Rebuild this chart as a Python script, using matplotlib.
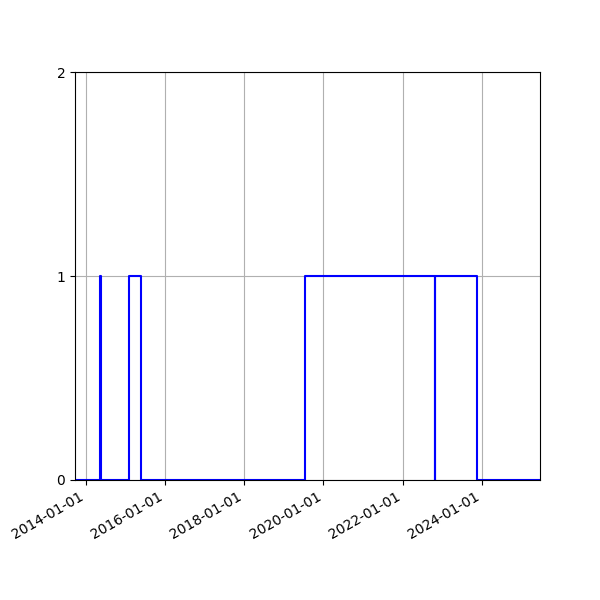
import matplotlib
matplotlib.use("Agg")
import matplotlib.pyplot as plt
import matplotlib.dates as mdates
import numpy as np
import pandas as pd

# change points of the status series (step, value holds until next date)
dates = [
    "2013-09-22", "2014-05-12", "2014-05-16", "2015-02-05", "2015-05-20",
    "2019-07-15", "2022-10-24", "2022-10-28", "2023-11-22", "2025-06-22",
]
values = [0, 1, 0, 1, 0, 1, 0, 1, 0, 0]
y_ticks = [0, 1, 2]

x = pd.to_datetime(dates)

fig, ax = plt.subplots(figsize=(6, 6), dpi=100)
ax.step(x, values, where="post", color="blue", linewidth=1.5)

ax.set_xlim(x[0], x[-1])
ax.set_ylim(0, 2)
ax.set_yticks(y_ticks)
ax.xaxis.set_major_locator(mdates.YearLocator(2))
ax.xaxis.set_major_formatter(mdates.DateFormatter("%Y-%m-%d"))
ax.grid(True)
fig.autofmt_xdate()

plt.savefig("out.png")
plt.close()
